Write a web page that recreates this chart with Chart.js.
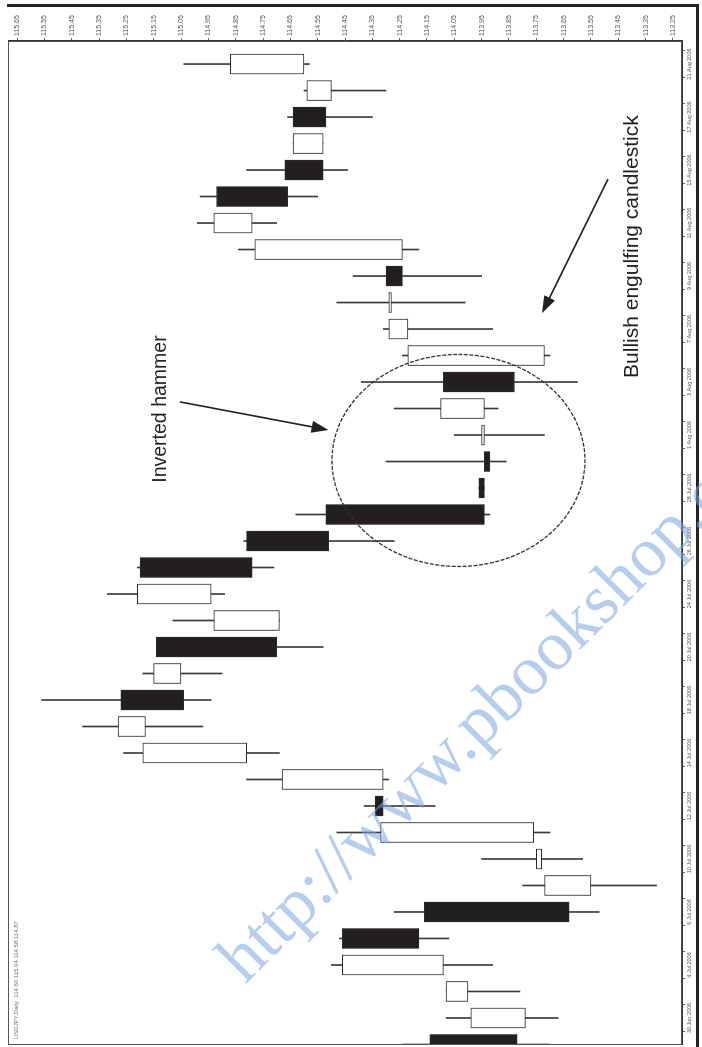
<!DOCTYPE html>
<html>
<head>
<meta charset="utf-8">
<title>USDJPY candlestick</title>
<script src="https://cdn.jsdelivr.net/npm/chart.js@4.4.1/dist/chart.umd.min.js"></script>
<style>
  html, body { margin: 0; padding: 0; background: #fff; overflow: hidden; }
  /* the chart is drawn lying down and turned a quarter turn, like the printed page */
  #wrap { position: absolute; left: 0; top: 0; width: 1047px; height: 702px;
          transform-origin: 0 0; transform: translate(0, 1047px) rotate(-90deg); }
</style>
</head>
<body>
<div id="wrap"><canvas id="chart" width="1047" height="702"></canvas></div>
<script>

// daily bars, oldest first
var days = ["29 Jun 2006", "30 Jun 2006", "3 Jul 2006", "4 Jul 2006", "5 Jul 2006", "6 Jul 2006", "7 Jul 2006",
            "10 Jul 2006", "11 Jul 2006", "12 Jul 2006", "13 Jul 2006", "14 Jul 2006",
            "17 Jul 2006", "18 Jul 2006", "19 Jul 2006", "20 Jul 2006", "21 Jul 2006",
            "24 Jul 2006", "25 Jul 2006", "26 Jul 2006", "27 Jul 2006", "28 Jul 2006",
            "31 Jul 2006", "1 Aug 2006", "2 Aug 2006", "3 Aug 2006", "4 Aug 2006",
            "7 Aug 2006", "8 Aug 2006", "9 Aug 2006", "10 Aug 2006", "11 Aug 2006",
            "14 Aug 2006", "15 Aug 2006", "16 Aug 2006", "17 Aug 2006", "18 Aug 2006", "21 Aug 2006"];

var open  = [114.14, 113.79, 114.00, 114.09, 114.46, 114.16, 113.55, 113.73, 113.76, 114.34, 114.31, 114.81,
             115.18, 115.27, 115.05, 115.14, 114.69, 114.94, 115.20, 114.81, 114.52, 113.96,
             113.94, 113.94, 113.94, 114.09, 113.72, 114.22, 114.28, 114.30, 114.24, 114.79,
             114.92, 114.67, 114.53, 114.64, 114.50, 114.60];
var high  = [114.24, 114.08, 114.08, 114.50, 114.47, 114.27, 113.80, 113.95, 114.48, 114.38, 114.81, 115.26,
             115.41, 115.56, 115.19, 115.14, 115.08, 115.32, 115.21, 114.82, 114.63, 113.96,
             114.30, 114.05, 114.27, 114.39, 114.24, 114.31, 114.48, 114.42, 114.84, 114.99,
             114.98, 114.81, 114.64, 114.66, 114.60, 115.04];
var low   = [113.70, 113.67, 113.81, 113.91, 114.07, 113.52, 113.31, 113.58, 113.70, 114.12, 114.29, 114.69,
             114.97, 114.94, 114.90, 114.53, 114.69, 114.89, 114.71, 114.27, 113.92, 113.94,
             113.86, 113.72, 113.89, 113.60, 113.70, 113.91, 114.01, 113.95, 114.18, 114.70,
             114.55, 114.44, 114.53, 114.35, 114.30, 114.58];
var close = [113.82, 113.99, 114.08, 114.46, 114.18, 113.63, 113.72, 113.75, 114.32, 114.31, 114.68, 115.19,
             115.28, 115.04, 115.15, 114.70, 114.93, 115.21, 114.79, 114.51, 113.94, 113.94,
             113.92, 113.95, 114.10, 113.83, 114.22, 114.29, 114.29, 114.24, 114.78, 114.93,
             114.66, 114.53, 114.64, 114.52, 114.59, 114.87];

var priceTicks = [115.65, 115.55, 115.45, 115.35, 115.25, 115.15, 115.05, 114.95, 114.85, 114.75, 114.65, 114.55, 114.45,
                  114.35, 114.25, 114.15, 114.05, 113.95, 113.85, 113.75, 113.65, 113.55, 113.45, 113.35, 113.25];


var ink = '#231f20';
var sans = '"Liberation Sans", Arial, sans-serif';

function arrow(c, x1, y1, x2, y2) {
    var ang = Math.atan2(y2 - y1, x2 - x1), len = 17, half = 6;
    c.beginPath();
    c.moveTo(x1, y1);
    c.lineTo(x2 - Math.cos(ang) * len * 0.8, y2 - Math.sin(ang) * len * 0.8);
    c.stroke();
    c.beginPath();
    c.moveTo(x2, y2);
    c.lineTo(x2 - Math.cos(ang) * len - Math.sin(ang) * half, y2 - Math.sin(ang) * len + Math.cos(ang) * half);
    c.lineTo(x2 - Math.cos(ang) * len + Math.sin(ang) * half, y2 - Math.sin(ang) * len - Math.cos(ang) * half);
    c.closePath();
    c.fill();
}

// frame, circle, notes and the watermark
var notes = {
    id: 'notes',
    afterDraw: function (chart) {
        var c = chart.ctx, a = chart.chartArea, xs = chart.scales.x, ys = chart.scales.y;
        c.save();

        c.strokeStyle = '#555';
        c.lineWidth = 1;
        c.strokeRect(a.left + 0.5, a.top + 0.5, a.right - a.left - 1, a.bottom - a.top - 1);
        c.fillStyle = '#222';
        c.fillRect(1040, 7, 3, 692);
        c.fillRect(0, 696, 1043, 3);

        c.fillStyle = '#777';
        c.font = '6px ' + sans;
        c.textAlign = 'left';
        c.textBaseline = 'middle';
        var n = days.length - 1;
        c.fillText('USDJPY,Daily  ' + open[n].toFixed(2) + ' ' + high[n].toFixed(2) + ' ' +
                   low[n].toFixed(2) + ' ' + close[n].toFixed(2), a.left + 6, a.top + 8);

        c.strokeStyle = '#333';
        c.lineWidth = 1.3;
        c.setLineDash([4, 1.5]);
        c.beginPath();
        c.ellipse(xs.getPixelForValue(22.04), ys.getPixelForValue(114.035), 106, 126.5, 0, 0, Math.PI * 2);
        c.stroke();
        c.setLineDash([]);

        c.fillStyle = ink;
        c.strokeStyle = ink;
        c.lineWidth = 1.6;
        c.textAlign = 'center';
        c.font = '19.5px ' + sans;
        c.fillText('Inverted hammer', xs.getPixelForValue(23.98), ys.getPixelForValue(115.123));
        arrow(c, xs.getPixelForValue(24.25), ys.getPixelForValue(115.054),
                 xs.getPixelForValue(23.19), ys.getPixelForValue(114.51));
        c.font = '21px ' + sans;
        c.fillText('Bullish engulfing candlestick', xs.getPixelForValue(30.11), ys.getPixelForValue(113.40));
        arrow(c, xs.getPixelForValue(32.66), ys.getPixelForValue(113.488),
                 xs.getPixelForValue(27.60), ys.getPixelForValue(113.729));

        c.translate(62, 245);
        c.rotate(Math.PI / 4);
        c.font = '70px "Liberation Serif", "Times New Roman", serif';
        c.fillStyle = 'rgba(120, 165, 228, 0.55)';
        c.textAlign = 'left';
        c.textBaseline = 'alphabetic';
        c.fillText('http://www.pbookshop.com', 0, 0);
        c.restore();
    }
};

var wicks = days.map(function (d, i) { return {x: i, y: [low[i], high[i]]}; });
var bodies = days.map(function (d, i) { return {x: i, y: [open[i], close[i]]}; });
var bodyColors = days.map(function (d, i) { return close[i] >= open[i] ? '#ffffff' : ink; });

new Chart(document.getElementById('chart').getContext('2d'), {
    type: 'bar',
    data: {
        datasets: [
            {
                label: 'body',
                data: bodies,
                backgroundColor: bodyColors,
                borderColor: '#2b2b2b',
                borderWidth: 1,
                borderSkipped: false,
                barThickness: 20,
                grouped: false,
                order: 1
            },
            {
                label: 'wick',
                data: wicks,
                backgroundColor: '#3a3a3a',
                barThickness: 1,
                grouped: false,
                order: 2
            }
        ]
    },
    options: {
        responsive: false,
        animation: false,
        devicePixelRatio: 1,
        layout: {padding: {left: 2, top: 8, right: 0, bottom: 0}},
        plugins: {legend: {display: false}, tooltip: {enabled: false}},
        scales: {
            x: {
                type: 'linear',
                position: 'bottom',
                min: -0.02,
                max: 37.87,
                offset: false,
                grid: {drawOnChartArea: false, tickLength: 3, color: '#666'},
                border: {display: true, color: '#333'},
                afterBuildTicks: function (s) { s.ticks = days.map(function (d, i) { return {value: i}; }); },
                afterFit: function (s) { s.height = 20; },
                ticks: {
                    autoSkip: false, minRotation: 0, maxRotation: 0, padding: 1,
                    color: '#555', font: {size: 5.5, family: sans},
                    callback: function (v) { return v % 2 === 1 ? days[v] : ''; }
                }
            },
            y: {
                type: 'linear',
                position: 'right',
                min: 113.217,
                max: 115.683,
                grid: {drawOnChartArea: false, tickLength: 3, color: '#666'},
                border: {display: true, color: '#333'},
                afterBuildTicks: function (s) { s.ticks = priceTicks.map(function (v) { return {value: v}; }); },
                afterFit: function (s) { s.width = 41; },
                ticks: {
                    padding: 2, color: '#555', font: {size: 7, family: sans},
                    callback: function (v) { return v.toFixed(2); }
                }
            }
        }
    },
    plugins: [notes]
});

</script>
</body>
</html>
